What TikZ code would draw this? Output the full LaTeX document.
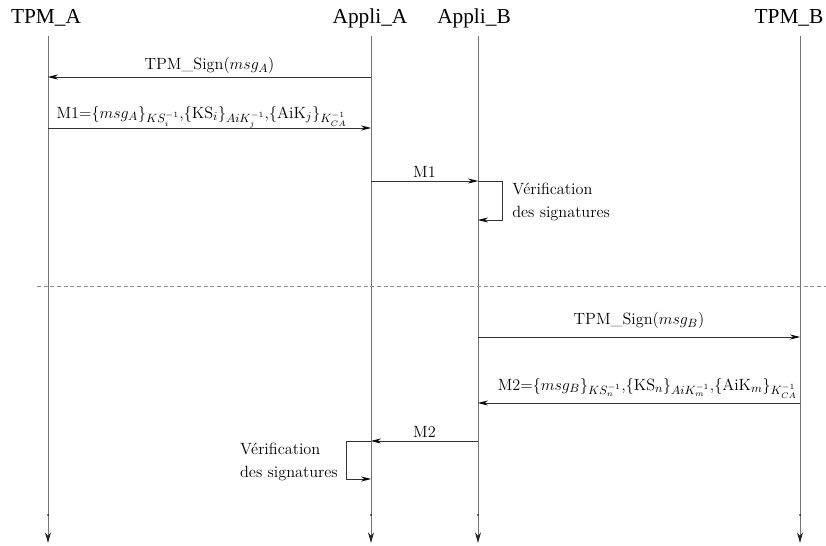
\documentclass[tikz,border=0pt]{standalone}
\usepackage{fontspec}
\newfontfamily\titlefont{Liberation Serif}
\usetikzlibrary{arrows.meta}
\begin{document}
\begin{tikzpicture}[x=0.75pt,y=-0.75pt,
  title/.style={font=\titlefont\fontsize{16}{18}\selectfont, inner sep=0pt},
  life/.style={draw=black!55, line width=0.6pt, -{Stealth[length=8pt,width=4.5pt,color=black!85]}},
  msg/.style={draw=black!80, line width=0.6pt, -{Stealth[length=7.5pt,width=3.8pt,color=black]}},
  lbl/.style={font=\fontsize{12.2}{14}\selectfont, inner sep=1pt},
  note/.style={font=\fontsize{12.2}{17}\selectfont, inner sep=0pt, align=left}]
\useasboundingbox (0,0) rectangle (826,546);
% titles
\node[title] (ta) at (46,18) {TPM\_A};
\node[title] (aa) at (370,18) {Appli\_A};
\node[title] (ab) at (474,18) {Appli\_B};
\node[title] (tb) at (789,18) {TPM\_B};
% lifelines
\foreach \n/\x in {ta/48,aa/371,ab/478,tb/800}{
  \coordinate (\n top) at (\x,36);
  \coordinate (\n bot) at (\x,543);
  \draw[life] (\n top) -- (\n bot);
  \fill (\x,515) circle (0.9);
}
% separator
\coordinate (sepL) at (37,286);
\coordinate (sepR) at (826,286);
\draw[black!45, line width=0.7pt, dash pattern=on 3pt off 2pt] (sepL) -- (sepR);
% message 1
\coordinate (m1s) at (371,77); \coordinate (m1e) at (48,77);
\draw[msg] (m1s) -- (m1e) node[lbl, midway, above=1pt] {TPM\_Sign($msg_A$)};
\coordinate (m2s) at (48,128); \coordinate (m2e) at (371,128);
\draw[msg] (m2s) -- (m2e);
\node[lbl, anchor=base west] (m2l) at (55,118) {M1=$\{msg_A\}_{KS_i^{-1}}$,$\{\mathrm{KS}_i\}_{AiK_j^{-1}}$,$\{\mathrm{AiK}_j\}_{K_{CA}^{-1}}$};
\coordinate (m3s) at (371,181); \coordinate (m3e) at (478,181);
\draw[msg] (m3s) -- (m3e) node[lbl, midway, above=1pt] {M1};
% self loop B
\coordinate (l1a) at (478,181); \coordinate (l1b) at (502,181);
\coordinate (l1c) at (502,220); \coordinate (l1d) at (478,220);
\draw[msg] (l1a) -- (l1b) -- (l1c) -- (l1d);
\node[note, anchor=north west] (n1) at (512,183) {V\'erification\\des signatures};
% message B
\coordinate (m4s) at (478,337); \coordinate (m4e) at (800,337);
\draw[msg] (m4s) -- (m4e) node[lbl, midway, above=5pt] {TPM\_Sign($msg_B$)};
\coordinate (m5s) at (800,403); \coordinate (m5e) at (478,403);
\draw[msg] (m5s) -- (m5e);
\node[lbl, anchor=base east] (m5l) at (799,390) {M2=$\{msg_B\}_{KS_n^{-1}}$,$\{\mathrm{KS}_n\}_{AiK_m^{-1}}$,$\{\mathrm{AiK}_m\}_{K_{CA}^{-1}}$};
\coordinate (m6s) at (478,441); \coordinate (m6e) at (371,441);
\draw[msg] (m6s) -- (m6e) node[lbl, midway, above=1pt] {M2};
% self loop A
\coordinate (l2a) at (371,441); \coordinate (l2b) at (346,441);
\coordinate (l2c) at (346,479); \coordinate (l2d) at (371,479);
\draw[msg] (l2a) -- (l2b) -- (l2c) -- (l2d);
\node[note, anchor=north east, align=left] (n2) at (338,443) {V\'erification\\des signatures};
\end{tikzpicture}
\end{document}
